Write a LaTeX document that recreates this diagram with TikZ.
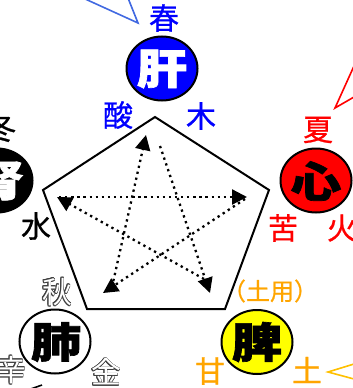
\documentclass[tikz,border=0pt]{standalone}
\usepackage{fontspec}
\newfontfamily\cjk{Noto Sans CJK JP}[BoldFeatures={FakeBold=1.6}]
\newfontfamily\cjkm{Noto Sans CJK JP}[FakeBold=0.8]
\usetikzlibrary{arrows.meta,shapes.geometric}
\definecolor{kblue}{RGB}{0,0,255}
\definecolor{kred}{RGB}{255,0,0}
\definecolor{kyellow}{RGB}{255,255,0}
\definecolor{korange}{RGB}{255,165,0}
\definecolor{kgold}{RGB}{255,192,0}
\definecolor{kcall}{RGB}{65,105,225}
\tikzset{
  organ/.style={ellipse, draw=black, line width=2pt, minimum width=71pt, minimum height=64pt, inner sep=0pt},
  organtext/.style={font=\cjk\bfseries\fontsize{42}{42}\selectfont, inner sep=0pt},
  lbl/.style={font=\cjkm\fontsize{30}{30}\selectfont, inner sep=0pt},
  olbl/.style={font=\cjk\fontsize{30}{30}\selectfont, inner sep=0pt},
  smalllbl/.style={font=\cjkm\fontsize{24}{24}\selectfont, inner sep=0pt},
  starrow/.style={line width=2.3pt, dash pattern=on 2.3pt off 3.8pt, -{Triangle[length=15pt,width=15pt]}},
  callout/.style={line width=1.6pt, line join=miter}
}
\newcommand{\outlined}[3]{%
  \foreach \ang in {0,30,...,330}{\node[olbl,text=black!75] at ([shift={(\ang:0.9pt)}]#2) {#3};}
  \node[olbl,text=white] (#1) at (#2) {#3};}
\begin{document}
\begin{tikzpicture}[x=1pt,y=-1pt]
\useasboundingbox (0,0) rectangle (353,388);
\clip (0,0) rectangle (353,388);
% callouts
\coordinate (bA) at (138,23); \coordinate (bL) at (83,-2); \coordinate (bR) at (128,-2);
\draw[callout, kcall] (bL) -- (bA) -- (bR);
\coordinate (rA) at (335,108); \coordinate (rT) at (354,66); \coordinate (rB) at (354,97);
\draw[callout, kred] (rT) -- (rA) -- (rB);
\coordinate (oA) at (328,372); \coordinate (oT) at (354,364); \coordinate (oB) at (354,379);
\draw[callout, kgold] (oT) -- (oA) -- (oB);
\coordinate (kA) at (28,390); \coordinate (kB) at (42,385);
\draw[callout, black] (kA) -- (kB);
% pentagon
\coordinate (p1) at (155,117); \coordinate (p2) at (269,190); \coordinate (p3) at (225,309);
\coordinate (p4) at (87,309); \coordinate (p5) at (43,190);
\draw[line width=2pt, line join=miter] (p1) -- (p2) -- (p3) -- (p4) -- (p5) -- cycle;
% star arrows
\coordinate (aS) at (112,287); \coordinate (aE) at (146,135);
\coordinate (bS) at (160,146); \coordinate (bE) at (210,293);
\coordinate (cS) at (204,279); \coordinate (cE) at (57,197);
\coordinate (dS) at (59,197);  \coordinate (dE) at (247,197);
\coordinate (eS) at (245,199); \coordinate (eE) at (103,293);
\draw[starrow] (aS) -- (aE);
\draw[starrow] (bS) -- (bE);
\draw[starrow] (cS) -- (cE);
\draw[starrow] (dS) -- (dE);
\draw[starrow] (eS) -- (eE);
% organs
\node[organ, fill=kblue] (kan) at (162,68.5) {};
\node[organtext, text=white] (kant) at (162,69) {\scalebox{1.2}[1]{肝}};
\node[organ, fill=kred] (shin) at (316,180.5) {};
\node[organtext, text=black] (shint) at (316,181) {\scalebox{1.2}[1]{心}};
\node[organ, fill=black] (jin) at (-3,180.5) {};
\node[organtext, text=white] (jint) at (-1,181) {\scalebox{1.2}[1]{腎}};
\node[organ, fill=white] (hai) at (55,341.5) {};
\node[organtext, text=black] (hait) at (56,342) {\scalebox{1.2}[1]{肺}};
\node[organ, fill=kyellow] (hi) at (257,342) {};
\node[organtext, text=black] (hit) at (257,342) {\scalebox{1.2}[1]{脾}};
% labels
\node[lbl, text=kblue] (haru) at (164,18) {春};
\node[lbl, text=kblue] (san) at (118,115) {酸};
\node[lbl, text=kblue] (moku) at (201,116) {木};
\node[lbl, text=kred] (natsu) at (318,130) {夏};
\node[lbl, text=kred] (ku) at (283,228) {苦};
\node[lbl, text=kred] (ka) at (342,228) {火};
\node[lbl, text=black] (fuyu) at (1,128) {冬};
\node[lbl, text=black] (sui) at (36,226) {水};
\outlined{aki}{57,292}{秋}
\outlined{shin2}{11,370}{辛}
\outlined{kin}{106,372}{金}
\node[smalllbl, text=korange] (doyo) at (270,291) {（土用）};
\node[lbl, text=korange] (kan2) at (210,371) {甘};
\node[lbl, text=korange] (do) at (307,370) {土};
\end{tikzpicture}
\end{document}
